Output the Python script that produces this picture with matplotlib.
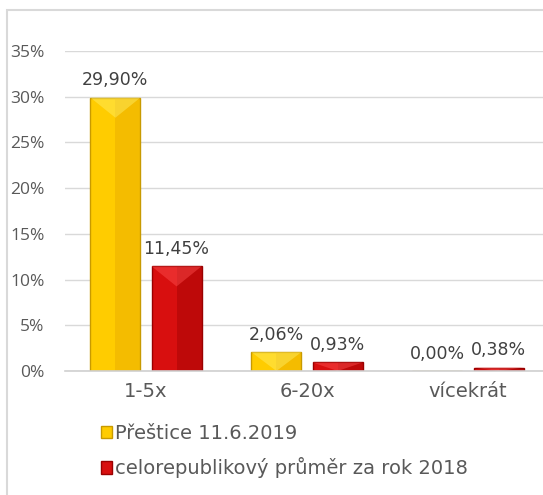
import numpy as np
import matplotlib.pyplot as plt
from matplotlib.patches import Rectangle, Polygon

categories = ['1-5x', '6-20x', 'vícekrát']
prestice = [29.90, 2.06, 0.00]
celorepublikovy = [11.45, 0.93, 0.38]
series_names = ['Přeštice 11.6.2019', 'celorepublikový průměr za rok 2018']
y_ticks = [0, 5, 10, 15, 20, 25, 30, 35]


def pct(v):
    return '{:.2f}%'.format(v).replace('.', ',')


def bevel(ax, bar, light, dark):
    # simple shading: darker right half and lighter top triangle
    x0, w, h = bar.get_x(), bar.get_width(), bar.get_height()
    if h <= 0:
        return
    ax.add_patch(Rectangle((x0 + w / 2, 0), w / 2, h, facecolor=dark,
                           edgecolor='none', alpha=0.35, zorder=3.5))
    d = min(h, 2.2)
    ax.add_patch(Polygon([(x0, h), (x0 + w, h), (x0 + w / 2, h - d)],
                         closed=True, facecolor=light, edgecolor='none',
                         alpha=0.45, zorder=3.6))


def main():
    plt.rcParams['font.family'] = ['DejaVu Sans']
    fig = plt.figure(figsize=(5.43, 4.95), dpi=100)
    ax = fig.add_axes([0.1206, 0.2505, 0.8895, 0.6465])

    # chart border (only left and top visible in the picture)
    fig.patches.append(Rectangle((7 / 543, -0.1), 1.2, 1.1 - 9.5 / 495,
                                 transform=fig.transFigure, fill=False,
                                 edgecolor='#d9d9d9', linewidth=1.5))

    x = np.arange(len(categories))
    w = 0.31
    off = 0.19
    b1 = ax.bar(x - off, prestice, w, color='#ffcc00', edgecolor='#c89a00',
                linewidth=1, label=series_names[0], zorder=3)
    b2 = ax.bar(x + off, celorepublikovy, w, color='#d80f0f', edgecolor='#9a0000',
                linewidth=1, label=series_names[1], zorder=3)
    for bar in b1:
        bevel(ax, bar, '#fff06a', '#e0a000')
    for bar in b2:
        bevel(ax, bar, '#ff5050', '#900000')

    for bars, vals in [(b1, prestice), (b2, celorepublikovy)]:
        for bar, v in zip(bars, vals):
            ax.annotate(pct(v), (bar.get_x() + bar.get_width() / 2, v),
                        xytext=(0, 6), textcoords='offset points',
                        ha='center', va='bottom', fontsize=12.5, color='#404040')

    ax.set_xlim(-0.5, 2.5)
    ax.set_ylim(0, 35)
    ax.set_yticks(y_ticks)
    ax.set_yticklabels(['{}%'.format(t) for t in y_ticks])
    ax.set_xticks(x)
    ax.set_xticklabels(categories)
    ax.tick_params(axis='y', length=0, pad=15, labelsize=12.5, labelcolor='#595959')
    ax.tick_params(axis='x', length=0, pad=8, labelsize=14, labelcolor='#595959')
    for lbl in ax.get_yticklabels():
        lbl.set_family('Open Sans')

    ax.grid(axis='y', color='#d9d9d9', linewidth=1, zorder=0)
    for s in ['left', 'right', 'top']:
        ax.spines[s].set_visible(False)
    ax.spines['bottom'].set_color('#d0d0d0')
    ax.spines['bottom'].set_linewidth(1.2)
    ax.spines['bottom'].set_zorder(4)

    leg = fig.legend(loc='upper left', bbox_to_anchor=(93 / 543, 1 - 416 / 495),
                     frameon=False, fontsize=14, handlelength=0.6,
                     handleheight=0.6, handletextpad=0.15, labelspacing=0.75,
                     borderaxespad=0)
    for t in leg.get_texts():
        t.set_color('#595959')

    fig.savefig('out.png', dpi=100)


if __name__ == '__main__':
    main()
